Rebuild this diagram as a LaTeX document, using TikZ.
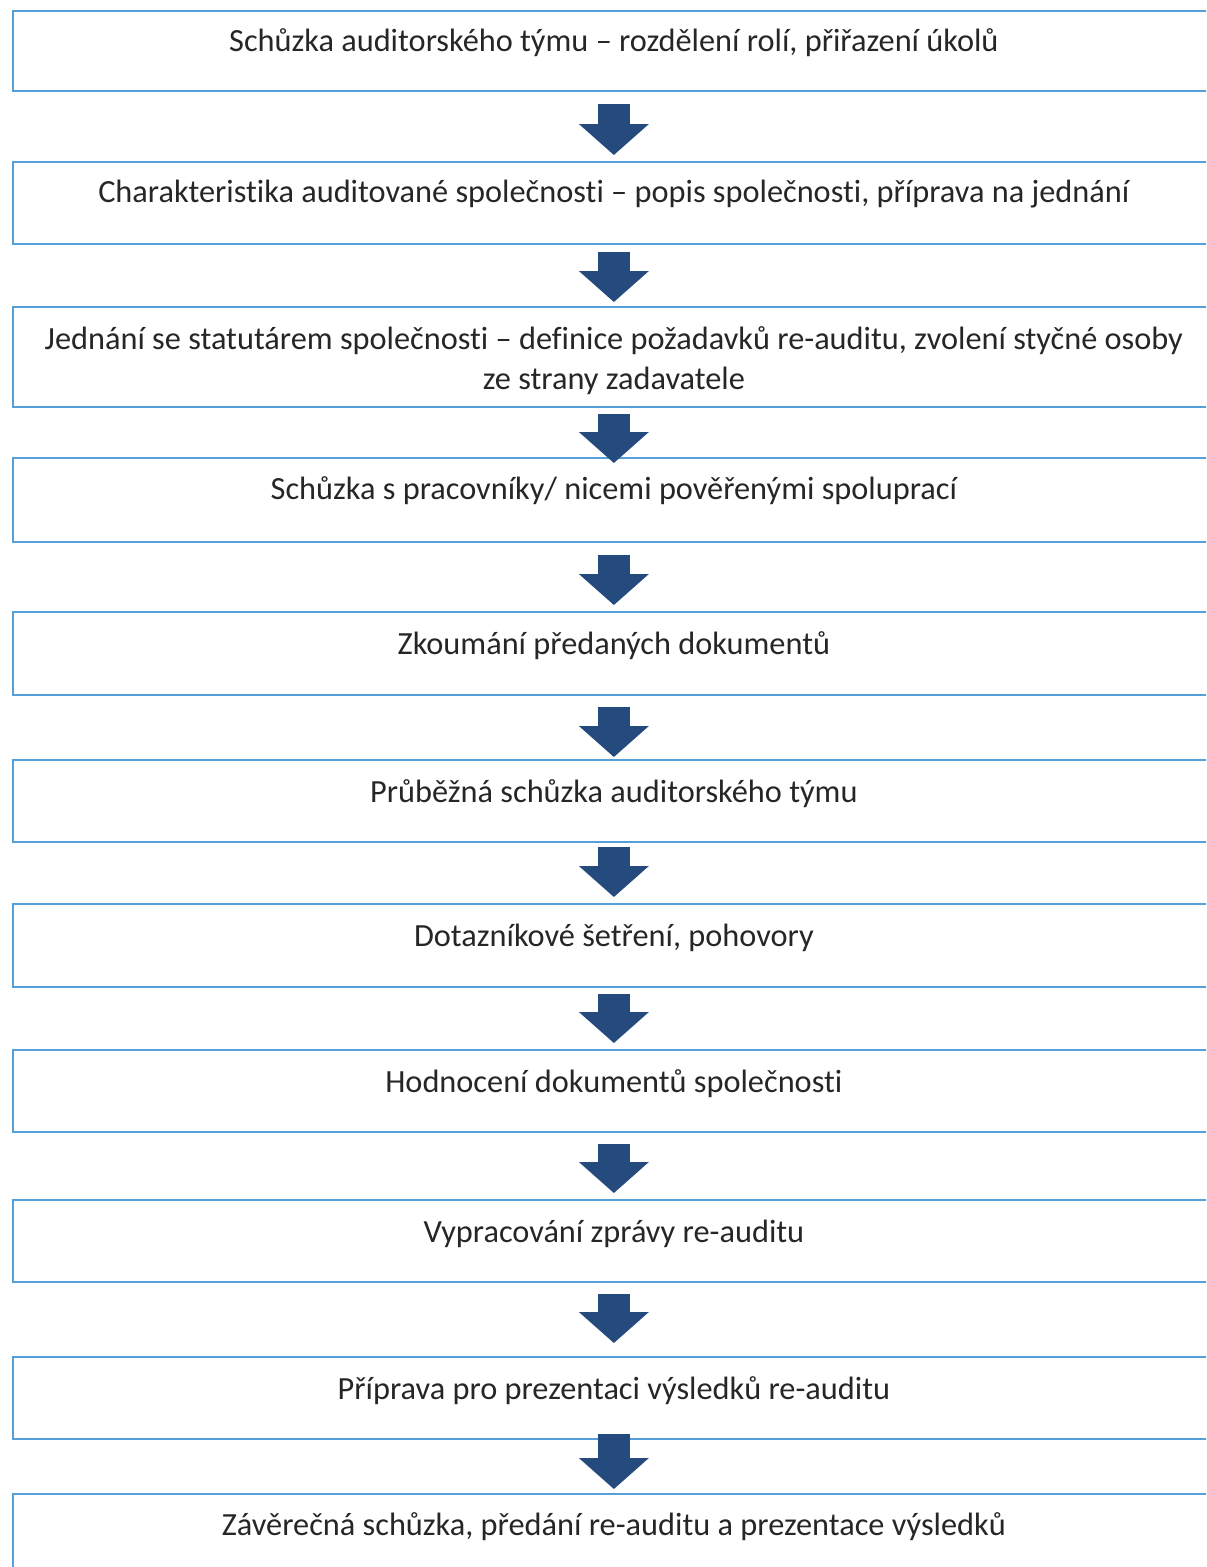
\documentclass[tikz,border=0pt]{standalone}
\usepackage{fontspec}
\setmainfont{Carlito}[Ligatures=NoCommon]
\usepackage{xcolor}
\usepackage{tikz}
\usetikzlibrary{calc}
\usetikzlibrary{arrows, arrows.meta}

\definecolor{boxblue}{RGB}{86,160,218}
\definecolor{arrowblue}{RGB}{36,74,126}
\definecolor{textgray}{RGB}{38,38,38}

\tikzset{
	stepbox/.style={draw=boxblue, line width=0.04cm, inner sep=0pt,
		minimum width=24.04cm, anchor=north west},
	steptext/.style={anchor=base, inner sep=0pt, align=center, text=textgray,
		font=\fontsize{18.4}{23.3}\selectfont},
	flow/.style={line width=0.64cm, arrowblue,
		-{Triangle[width=1.4cm, length=0.62cm, line width=0pt]}}
}

\begin{document}
\begin{tikzpicture}[x=0.02cm, y=-0.02cm]
	\useasboundingbox (0,0) rectangle (1206,1567);
	\clip (0,0) rectangle (1206,1567);

	% boxes
	\node[stepbox, minimum height=1.6cm] (b1) at (12,10) {};
	\node[stepbox, minimum height=1.64cm] (b2) at (12,161) {};
	\node[stepbox, minimum height=2cm] (b3) at (12,306) {};
	\node[stepbox, minimum height=1.68cm] (b4) at (12,457) {};
	\node[stepbox, minimum height=1.66cm] (b5) at (12,611) {};
	\node[stepbox, minimum height=1.64cm] (b6) at (12,759) {};
	\node[stepbox, minimum height=1.66cm] (b7) at (12,903) {};
	\node[stepbox, minimum height=1.64cm] (b8) at (12,1049) {};
	\node[stepbox, minimum height=1.64cm] (b9) at (12,1199) {};
	\node[stepbox, minimum height=1.64cm] (b10) at (12,1356) {};
	\node[stepbox, minimum height=1.64cm] (b11) at (12,1493) {};

	% texts (base = last line)
	\node[steptext] (t1) at ($(b1.north)+(0,42)$)
		{Schůzka auditorského týmu – rozdělení rolí, přiřazení úkolů};
	\node[steptext] (t2) at ($(b2.north)+(0,42)$)
		{Charakteristika auditované společnosti – popis společnosti, příprava na jednání};
	\node[steptext] (t3) at ($(b3.north)+(0,84)$)
		{Jednání se statutárem společnosti – definice požadavků re-auditu, zvolení styčné osoby\\ze strany zadavatele};
	\node[steptext] (t4) at ($(b4.north)+(0,42)$)
		{Schůzka s pracovníky/ nicemi pověřenými spoluprací};
	\node[steptext] (t5) at ($(b5.north)+(0,43)$)
		{Zkoumání předaných dokumentů};
	\node[steptext] (t6) at ($(b6.north)+(0,43)$)
		{Průběžná schůzka auditorského týmu};
	\node[steptext] (t7) at ($(b7.north)+(0,43)$)
		{Dotazníkové šetření, pohovory};
	\node[steptext] (t8) at ($(b8.north)+(0,43)$)
		{Hodnocení dokumentů společnosti};
	\node[steptext] (t9) at ($(b9.north)+(0,43)$)
		{Vypracování zprávy re-auditu};
	\node[steptext] (t10) at ($(b10.north)+(0,43)$)
		{Příprava pro prezentaci výsledků re-auditu};
	\node[steptext] (t11) at ($(b11.north)+(0,42)$)
		{Závěrečná schůzka, předání re-auditu a prezentace výsledků};

	% arrows
	\draw[flow] ($(b1.south)+(0,12)$) -- ($(b2.north)+(0,-6)$);
	\draw[flow] ($(b2.south)+(0,7)$) -- ($(b3.north)+(0,-4)$);
	\draw[flow] ($(b3.south)+(0,6)$) -- ($(b4.north)+(0,6)$);
	\draw[flow] ($(b4.south)+(0,12)$) -- ($(b5.north)+(0,-6)$);
	\draw[flow] ($(b5.south)+(0,11)$) -- ($(b6.north)+(0,-2)$);
	\draw[flow] ($(b6.south)+(0,4)$) -- ($(b7.north)+(0,-6)$);
	\draw[flow] ($(b7.south)+(0,6)$) -- ($(b8.north)+(0,-6)$);
	\draw[flow] ($(b8.south)+(0,11)$) -- ($(b9.north)+(0,-6)$);
	\draw[flow] ($(b9.south)+(0,11)$) -- ($(b10.north)+(0,-13)$);
	\draw[flow] ($(b10.south)+(0,-6)$) -- ($(b11.north)+(0,-4)$);
\end{tikzpicture}
\end{document}
